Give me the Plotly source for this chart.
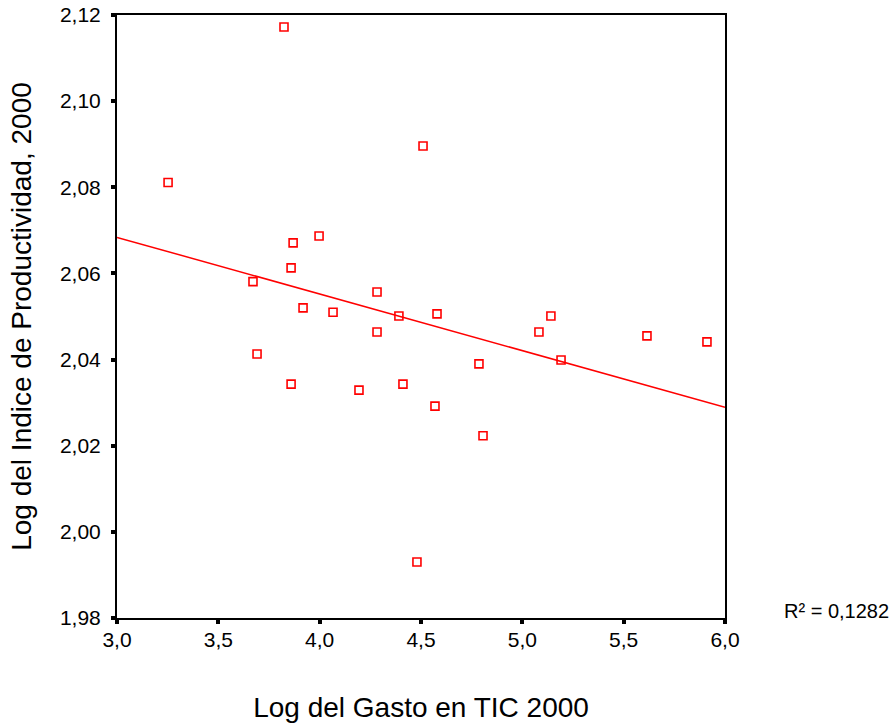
import numpy as np
import plotly.graph_objects as go

# Data
gasto_tic = [3.824, 3.252, 4.510, 3.869, 3.997, 3.859, 3.671, 3.918, 4.066, 4.283,
             4.283, 4.391, 4.579, 3.691, 3.859, 4.194, 4.411, 4.569, 4.786, 4.806,
             4.480, 5.082, 5.141, 5.191, 5.615, 5.911]
productividad = [2.1172, 2.0811, 2.0896, 2.0671, 2.0687, 2.0613, 2.0581, 2.0520, 2.0510, 2.0557,
                 2.0464, 2.0501, 2.0506, 2.0413, 2.0343, 2.0329, 2.0343, 2.0292, 2.0390, 2.0223,
                 1.9930, 2.0464, 2.0501, 2.0399, 2.0455, 2.0441]
x_range = [3.0, 6.0]
y_range = [1.98, 2.12]
x_ticks = [3.0, 3.5, 4.0, 4.5, 5.0, 5.5, 6.0]
y_ticks = [1.98, 2.00, 2.02, 2.04, 2.06, 2.08, 2.10, 2.12]
r2_label = "R² = 0,1282"

# Linear fit line
slope, intercept = np.polyfit(gasto_tic, productividad, 1)
fit_x = np.array(x_range)
fit_y = intercept + slope * fit_x

fig = go.Figure()
fig.add_trace(go.Scatter(
    x=fit_x, y=fit_y, mode="lines",
    line=dict(color="#ff0000", width=1.5),
    showlegend=False, hoverinfo="skip"))
fig.add_trace(go.Scatter(
    x=gasto_tic, y=productividad, mode="markers",
    marker=dict(symbol="square-open", size=8, color="#ff0000",
                line=dict(color="#ff0000", width=1.6)),
    showlegend=False))

font_family = "Liberation Sans, Arial, sans-serif"
fig.update_layout(
    width=895, height=723,
    margin=dict(l=117, r=170, t=15, b=105),
    paper_bgcolor="white", plot_bgcolor="white",
    separators=", ",
    font=dict(family=font_family, size=21, color="black"),
    xaxis=dict(
        range=x_range, tickvals=x_ticks, tickformat=".1f",
        showgrid=False, zeroline=False, automargin=False,
        showline=True, linecolor="black", linewidth=2, mirror=True,
        ticks="outside", ticklen=4, tickwidth=4, tickcolor="black",
        tickfont=dict(size=21), ticklabelstandoff=-2,
        title=dict(text="Log del Gasto en TIC 2000", font=dict(size=28), standoff=50),
    ),
    yaxis=dict(
        range=y_range, tickvals=y_ticks, tickformat=".2f",
        showgrid=False, zeroline=False, automargin=False,
        showline=True, linecolor="black", linewidth=2, mirror=True,
        ticks="outside", ticklen=4, tickwidth=4, tickcolor="black",
        tickfont=dict(size=21), ticklabelstandoff=6,
        title=dict(text="Log del Indice de Productividad, 2000", font=dict(size=28), standoff=20),
    ),
    annotations=[dict(
        text=r2_label, xref="paper", yref="paper", x=1.094, y=0.012,
        xanchor="left", yanchor="middle", showarrow=False,
        font=dict(size=20, color="black"))],
)

fig.write_html("out.html")
